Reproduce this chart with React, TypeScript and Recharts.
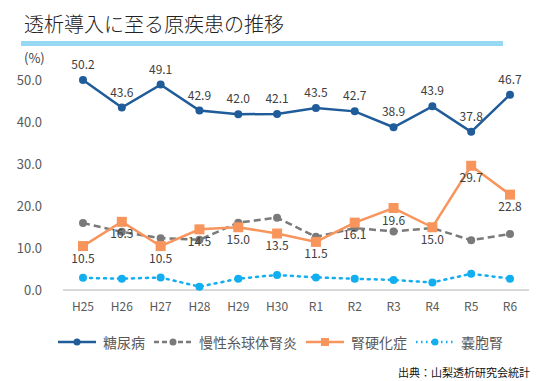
import React from 'react'
import { LineChart, Line, XAxis, YAxis, LabelList } from 'recharts'

const years = ['H25', 'H26', 'H27', 'H28', 'H29', 'H30', 'R1', 'R2', 'R3', 'R4', 'R5', 'R6']
const diabetes = [50.2, 43.6, 49.1, 42.9, 42.0, 42.1, 43.5, 42.7, 38.9, 43.9, 37.8, 46.7]
const glomerulo = [16.0, 13.9, 12.4, 12.0, 16.1, 17.3, 12.7, 14.8, 14.0, 14.8, 11.9, 13.4]
const sclerosis = [10.5, 16.3, 10.5, 14.5, 15.0, 13.5, 11.5, 16.1, 19.6, 15.0, 29.7, 22.8]
const cystic = [2.9, 2.7, 3.0, 0.8, 2.7, 3.6, 3.0, 2.7, 2.4, 1.8, 3.9, 2.7]
const yTicks = [0, 10, 20, 30, 40, 50]

const data = years.map((y, i) => ({
  year: y,
  diabetes: diabetes[i],
  glomerulo: glomerulo[i],
  sclerosis: sclerosis[i],
  cystic: cystic[i],
}))

const FONT = '"Noto Sans CJK JP", "Noto Sans", sans-serif'
const BLUE = '#1f5c99'
const GRAY = '#7a7a7a'
const ORANGE = '#f8955c'
const CYAN = '#12aef0'

const legendItems = [
  { name: '糖尿病', color: BLUE, dash: undefined, square: false },
  { name: '慢性糸球体腎炎', color: GRAY, dash: '5 3', square: false },
  { name: '腎硬化症', color: ORANGE, dash: undefined, square: true },
  { name: '嚢胞腎', color: CYAN, dash: '1.5 3.5', square: false },
]

const SquareDot = (props: any) => {
  const { cx, cy, index } = props
  return <rect key={`sq-${index}`} x={cx - 5} y={cy - 5} width={10} height={10} fill={ORANGE} />
}

const fmt = (v: any) => Number(v).toFixed(1)

export default function App() {
  return (
    <div style={{ position: 'absolute', left: 0, top: 0, width: 550, height: 381, background: '#fff', fontFamily: FONT }}>
      <div style={{ position: 'absolute', left: 24, top: 9, fontSize: 20, fontWeight: 300, color: '#222', whiteSpace: 'nowrap' }}>
        透析導入に至る原疾患の推移
      </div>
      <div style={{ position: 'absolute', left: 21, top: 41, width: 482, height: 5, background: '#97d8f3' }} />
      <div style={{ position: 'absolute', left: 24, top: 48, fontSize: 13, color: '#404040' }}>(%)</div>

      <div style={{ position: 'absolute', left: 0, top: 0 }}>
        <LineChart width={550} height={381} data={data} margin={{ top: 80, right: 21, bottom: 61, left: 23 }}>
          <XAxis
            dataKey="year"
            height={30}
            padding={{ left: 20, right: 19 }}
            tickLine={false}
            axisLine={{ stroke: '#d9d9d9', strokeWidth: 2 }}
            tick={{ fontSize: 12, fill: '#595959', fontFamily: FONT }}
            tickMargin={6}
          />
          <YAxis
            width={40}
            domain={[0, 50]}
            ticks={yTicks}
            tickFormatter={fmt}
            axisLine={false}
            tickLine={false}
            tickMargin={15}
            tick={{ fontSize: 13, fill: '#595959', fontFamily: FONT }}
          />
          <Line dataKey="glomerulo" stroke={GRAY} strokeWidth={2.5} strokeDasharray="7 4"
            dot={{ r: 4, fill: GRAY, stroke: GRAY, strokeWidth: 0 }} isAnimationActive={false} />
          <Line dataKey="cystic" stroke={CYAN} strokeWidth={2.5} strokeDasharray="2 5" strokeLinecap="round"
            dot={{ r: 4, fill: CYAN, stroke: CYAN, strokeWidth: 0 }} isAnimationActive={false} />
          <Line dataKey="sclerosis" stroke={ORANGE} strokeWidth={2.5} dot={SquareDot} isAnimationActive={false}>
            <LabelList dataKey="sclerosis" position="bottom" offset={8} formatter={fmt}
              style={{ fontSize: 12, fill: '#404040', fontFamily: FONT }} />
          </Line>
          <Line dataKey="diabetes" stroke={BLUE} strokeWidth={2.5}
            dot={{ r: 4, fill: BLUE, stroke: BLUE, strokeWidth: 0 }} isAnimationActive={false}>
            <LabelList dataKey="diabetes" position="top" offset={11} formatter={fmt}
              style={{ fontSize: 12, fill: '#404040', fontFamily: FONT }} />
          </Line>
        </LineChart>
      </div>

      <div style={{ position: 'absolute', left: 58, top: 332, display: 'flex', alignItems: 'center', fontSize: 14, color: '#595959', whiteSpace: 'nowrap' }}>
        {legendItems.map((it) => (
          <div key={it.name} style={{ display: 'flex', alignItems: 'center', marginRight: 9 }}>
            <svg width={38} height={12} style={{ marginRight: 7 }}>
              <line x1={0} y1={6} x2={38} y2={6} stroke={it.color} strokeWidth={2.5} strokeDasharray={it.dash} />
              {it.square ? (
                <rect x={15} y={2} width={8} height={8} fill={it.color} />
              ) : (
                <circle cx={19} cy={6} r={3.5} fill={it.color} />
              )}
            </svg>
            <span>{it.name}</span>
          </div>
        ))}
      </div>

      <div style={{ position: 'absolute', left: 398, top: 364, fontSize: 11, color: '#111', whiteSpace: 'nowrap' }}>
        出典：山梨透析研究会統計
      </div>
    </div>
  )
}
